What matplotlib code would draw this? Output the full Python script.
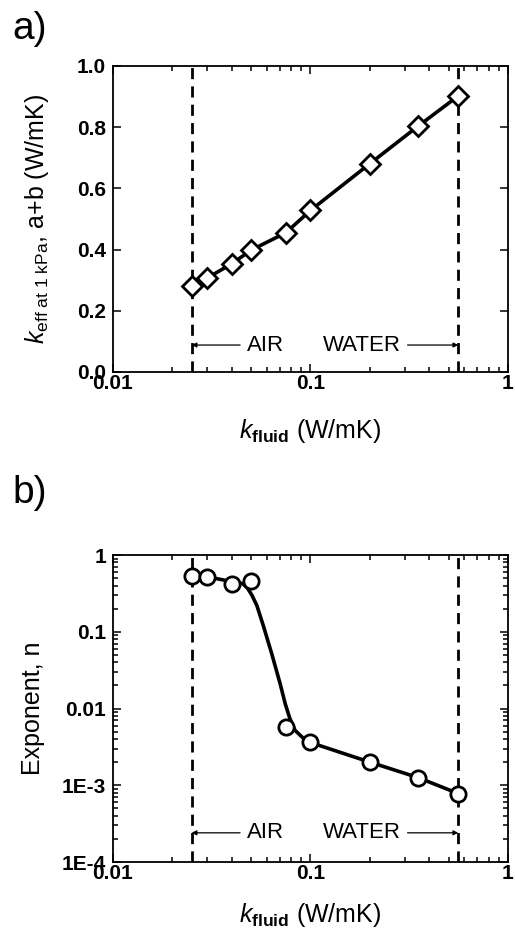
import math
import matplotlib
matplotlib.use('Agg')
import matplotlib.pyplot as plt
from matplotlib.ticker import FixedLocator, LogLocator, FuncFormatter, NullFormatter

# data
k_fluid = [0.025, 0.03, 0.04, 0.05, 0.075, 0.1, 0.2, 0.35, 0.56]
k_eff = [0.28, 0.307, 0.354, 0.398, 0.455, 0.528, 0.681, 0.803, 0.902]
exponent_n = [0.53, 0.52, 0.42, 0.46, 0.0057, 0.0037, 0.002, 0.00126, 0.00078]

# fitted curve in panel b
curve_x = [0.025, 0.03, 0.04, 0.043, 0.0455, 0.048, 0.0505, 0.0535, 0.0577, 0.0636,
           0.0701, 0.0745, 0.0785, 0.0835, 0.0938, 0.1, 0.2, 0.35, 0.56]
curve_y = [0.53, 0.52, 0.45, 0.44, 0.42, 0.37, 0.30, 0.22, 0.12, 0.052,
           0.0213, 0.0115, 0.0075, 0.0052, 0.0039, 0.0036, 0.002, 0.00126, 0.00078]

air_k = 0.025
water_k = 0.56

plt.rcParams['font.family'] = ['Liberation Sans', 'DejaVu Sans']
plt.rcParams['mathtext.fontset'] = 'custom'
plt.rcParams['mathtext.rm'] = 'Liberation Sans'
plt.rcParams['mathtext.it'] = 'Liberation Sans:italic'
plt.rcParams['mathtext.bf'] = 'Liberation Sans:bold'

fig = plt.figure(figsize=(5.15, 9.32), dpi=100)
ax_a = fig.add_axes([0.2194, 0.6009, 0.767, 0.3283])
ax_b = fig.add_axes([0.2194, 0.0751, 0.767, 0.3294])


def style_axes(ax, xpad):
    ax.set_xscale('log')
    ax.set_xlim(0.01, 1)
    for s in ax.spines.values():
        s.set_linewidth(1.3)
    ax.tick_params(which='both', direction='in', top=True, right=True, width=1.1)
    ax.tick_params(which='major', length=6, labelsize=15)
    ax.tick_params(which='minor', length=3.5)
    ax.tick_params(axis='x', pad=1.5)
    ax.tick_params(axis='y', pad=5)
    ax.xaxis.set_major_locator(FixedLocator([0.01, 0.1, 1]))
    ax.xaxis.set_minor_locator(LogLocator(base=10, subs=range(2, 10)))
    ax.xaxis.set_minor_formatter(NullFormatter())
    ax.xaxis.set_major_formatter(FuncFormatter(lambda v, p: {0.01: '0.01', 0.1: '0.1', 1: '1'}.get(round(v, 3), '')))
    ax.set_xlabel(r'$k_{\mathbf{fluid}}$ (W/mK)', fontsize=18, labelpad=xpad)


def bold_ticks(ax):
    for lab in ax.get_xticklabels() + ax.get_yticklabels():
        lab.set_fontweight('bold')


def range_marks(ax, yarrow):
    for xv in [air_k, water_k]:
        ax.axvline(xv, color='black', lw=2, linestyle=(0, (4, 2.6)))
    ax.annotate('', xy=(air_k, yarrow), xytext=(0.044, yarrow),
                arrowprops=dict(arrowstyle='-|>', color='black', lw=0.9,
                                mutation_scale=7, shrinkA=0, shrinkB=0))
    ax.annotate('', xy=(water_k, yarrow), xytext=(0.31, yarrow),
                arrowprops=dict(arrowstyle='-|>', color='black', lw=0.9,
                                mutation_scale=7, shrinkA=0, shrinkB=0))
    ax.text(0.059, yarrow, 'AIR', fontsize=16, ha='center', va='center')
    ax.text(0.182, yarrow, 'WATER', fontsize=16, ha='center', va='center')


# panel a
style_axes(ax_a, 17)
ax_a.set_ylim(0, 1.0)
ax_a.yaxis.set_major_locator(FixedLocator([0, 0.2, 0.4, 0.6, 0.8, 1.0]))
ax_a.yaxis.set_major_formatter(FuncFormatter(lambda v, p: '%.1f' % v))
bold_ticks(ax_a)
range_marks(ax_a, 0.088)
ax_a.plot(k_fluid, k_eff, color='black', lw=2.6, marker='D', markersize=10.5,
          markerfacecolor='white', markeredgecolor='black', markeredgewidth=2, zorder=5)
ax_a.set_ylabel(r'$k_{\mathrm{eff\ at\ 1\ kPa}}$, a+b (W/mK)', fontsize=18, labelpad=19)
fig.text(0.025, 0.950, 'a)', fontsize=28, ha='left', va='bottom')

# panel b
style_axes(ax_b, 13)
ax_b.set_yscale('log')
ax_b.set_ylim(1e-4, 1)
ax_b.yaxis.set_major_locator(FixedLocator([1e-4, 1e-3, 1e-2, 1e-1, 1]))
ax_b.yaxis.set_minor_locator(LogLocator(base=10, subs=range(2, 10)))
ax_b.yaxis.set_minor_formatter(NullFormatter())
ylabels_b = {-4: '1E-4', -3: '1E-3', -2: '0.01', -1: '0.1', 0: '1'}
ax_b.yaxis.set_major_formatter(FuncFormatter(lambda v, p: ylabels_b.get(round(math.log10(v)), '')))
bold_ticks(ax_b)
range_marks(ax_b, 2.4e-4)
ax_b.plot(curve_x, curve_y, color='black', lw=2.6, zorder=4)
ax_b.plot(k_fluid, exponent_n, linestyle='none', marker='o', markersize=11,
          markerfacecolor='white', markeredgecolor='black', markeredgewidth=2, zorder=5)
ax_b.set_ylabel('Exponent, n', fontsize=18, labelpad=12)
fig.text(0.025, 0.452, 'b)', fontsize=28, ha='left', va='bottom')

fig.savefig('out.png', dpi=100, facecolor='white')
